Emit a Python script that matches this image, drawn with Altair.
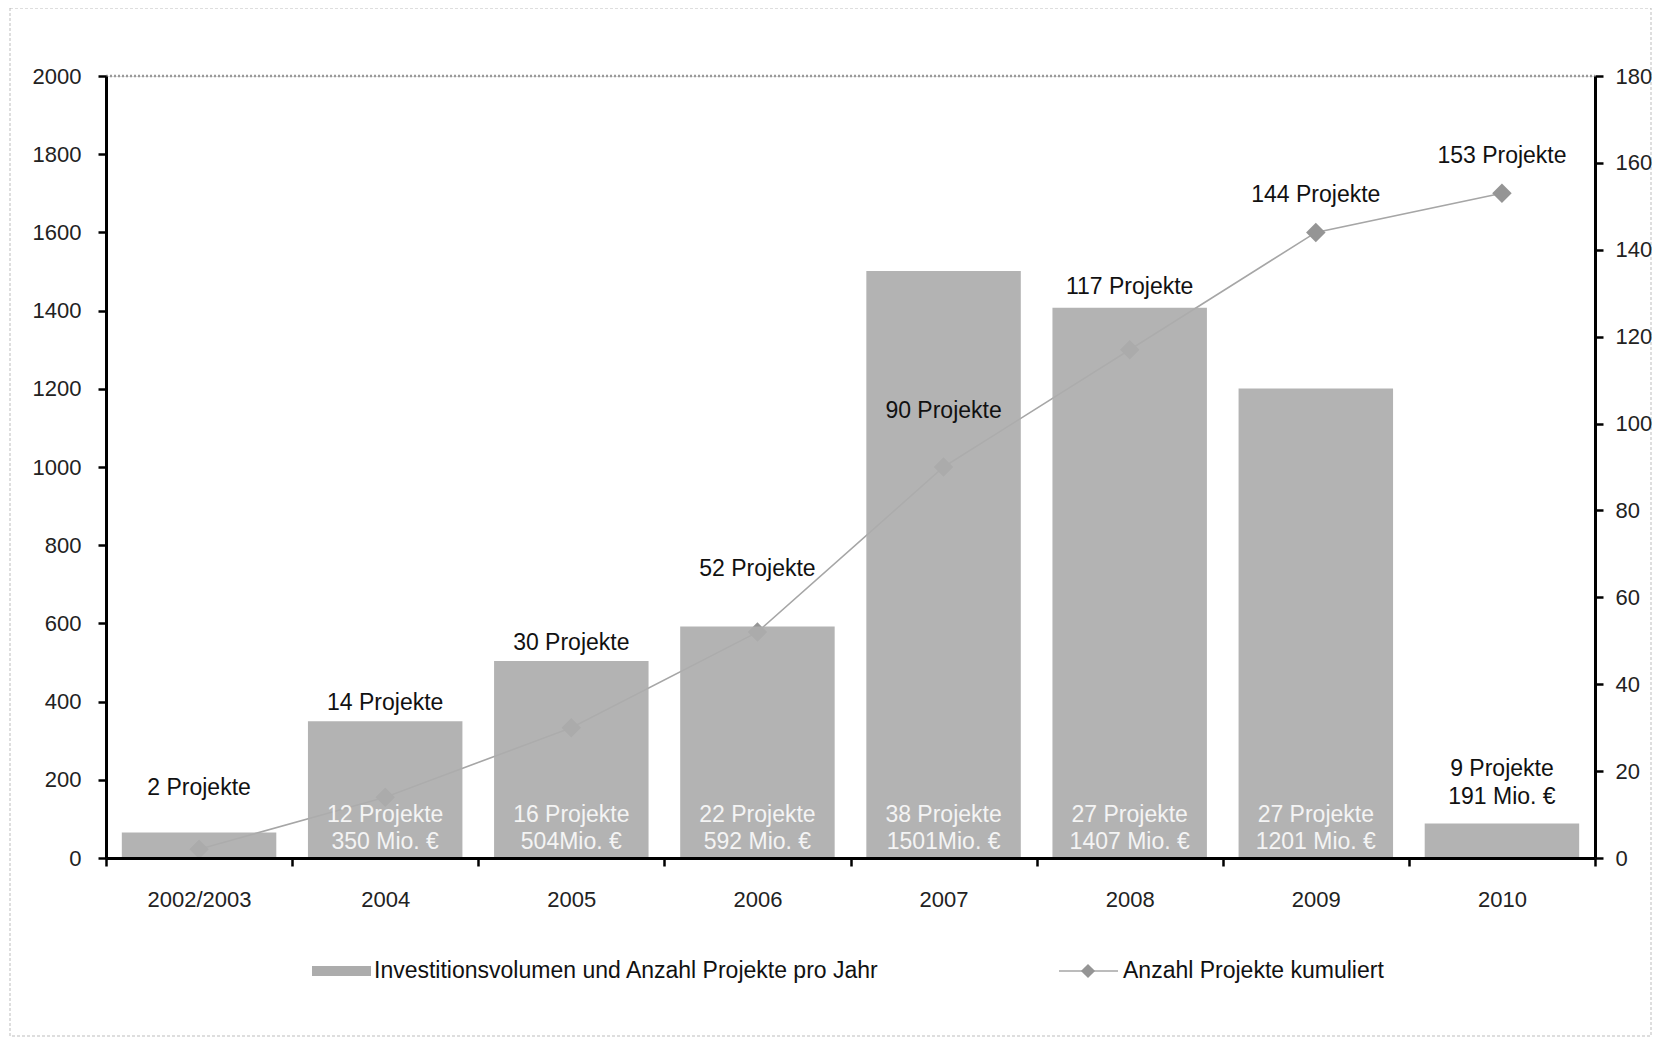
import altair as alt
import pandas as pd

categories = ["2002/2003", "2004", "2005", "2006", "2007", "2008", "2009", "2010"]
invest = [65, 350, 504, 592, 1501, 1407, 1201, 88]
cumulative = [2, 14, 30, 52, 90, 117, 144, 153]
line_labels = ["2 Projekte", "14 Projekte", "30 Projekte", "52 Projekte",
               "90 Projekte", "117 Projekte", "144 Projekte", "153 Projekte"]
line_label_pos = [16.1, 35.6, 49.5, 66.6, 102.9, 131.5, 152.7, 161.7]  # right-axis units
bar_label_1 = ["", "12 Projekte", "16 Projekte", "22 Projekte", "38 Projekte",
               "27 Projekte", "27 Projekte", "9 Projekte"]
bar_label_2 = ["", "350 Mio. €", "504Mio. €", "592 Mio. €", "1501Mio. €",
               "1407 Mio. €", "1201 Mio. €", "191 Mio. €"]
bar_label_pos1 = [0, 110, 110, 110, 110, 110, 110, 228]  # left-axis units
bar_label_pos2 = [0, 41, 41, 41, 41, 41, 41, 157]
bar_label_color = ["#f4f4f4"] * 7 + ["#111111"]

FONT = "Liberation Sans"
FS = 23
AFS = 22
W, H = 1489, 782

df = pd.DataFrame({
    "cat": categories, "invest": invest, "cum": cumulative,
    "ll": line_labels, "llpos": line_label_pos,
    "b1": bar_label_1, "b2": bar_label_2,
    "bp1": bar_label_pos1, "bp2": bar_label_pos2, "bc": bar_label_color,
})

xscale = alt.Scale(paddingInner=0, paddingOuter=0)
xenc = alt.X("cat:N", sort=categories, title=None, scale=xscale,
             axis=alt.Axis(tickBand="extent", domainColor="black", domainWidth=3,
                           tickColor="black", tickWidth=2.5, tickSize=8,
                           labelPadding=23, labelFontSize=AFS, labelFont=FONT,
                           labelColor="#222", labelAngle=0, zindex=2))
xs = alt.X("cat:N", sort=categories, scale=xscale)

left_scale = alt.Scale(domain=[0, 2000], nice=False)
right_scale = alt.Scale(domain=[0, 180], nice=False)

base = alt.Chart(df)

line = base.mark_line(color="#a6a6a6", strokeWidth=1.6).encode(
    x=xenc,
    y=alt.Y("cum:Q", scale=right_scale, title=None,
            axis=alt.Axis(orient="right", values=list(range(0, 181, 20)), grid=False,
                          format="d",
                          domainColor="black", domainWidth=3, tickColor="black",
                          tickWidth=2.5, tickSize=8, labelPadding=12, labelFontSize=AFS,
                          labelFont=FONT, labelColor="#222", zindex=2)),
)
pts = base.mark_point(shape="diamond", size=380, filled=True, color="#959595", opacity=1).encode(
    x=xs,
    y=alt.Y("cum:Q", scale=right_scale, axis=None),
)

bars = base.mark_bar(color="#acacac", opacity=0.92, width=alt.RelativeBandSize(0.83)).encode(
    x=xs,
    y=alt.Y("invest:Q", scale=left_scale, title=None,
            axis=alt.Axis(orient="left", values=list(range(0, 2001, 200)), grid=False,
                          format="d",
                          domainColor="black", domainWidth=3, tickColor="black",
                          tickWidth=2.5, tickSize=8, labelPadding=17, labelFontSize=AFS,
                          labelFont=FONT, labelColor="#222", zindex=2)),
)

line_text = base.mark_text(font=FONT, fontSize=FS, color="#111", baseline="middle").encode(
    x=xs,
    y=alt.Y("llpos:Q", scale=right_scale, axis=None),
    text="ll:N",
)
bt1 = base.mark_text(font=FONT, fontSize=FS, baseline="middle").encode(
    x=xs,
    y=alt.Y("bp1:Q", scale=left_scale, axis=None),
    text="b1:N",
    color=alt.Color("bc:N", scale=None),
)
bt2 = base.mark_text(font=FONT, fontSize=FS, baseline="middle").encode(
    x=xs,
    y=alt.Y("bp2:Q", scale=left_scale, axis=None),
    text="b2:N",
    color=alt.Color("bc:N", scale=None),
)

one = alt.Chart(pd.DataFrame({"k": [0]}))
top_rule = one.mark_rule(color="#9a9a9a", strokeWidth=2.5, strokeDash=[2, 2]).encode(
    x=alt.value(0), x2=alt.value(W), y=alt.value(0))
border = one.mark_rect(fill=None, stroke="#bdbdbd", strokeWidth=1, strokeDash=[3, 2]).encode(
    x=alt.value(-96), x2=alt.value(W + 56), y=alt.value(-68), y2=alt.value(H + 178))

leg_sw = one.mark_rect(color="#acacac").encode(
    x=alt.value(206), x2=alt.value(265), y=alt.value(890), y2=alt.value(900))
leg_t1 = one.mark_text(font=FONT, fontSize=FS, align="left", baseline="middle", color="#111",
                       text="Investitionsvolumen und Anzahl Projekte pro Jahr").encode(
    x=alt.value(268), y=alt.value(895))
leg_line = one.mark_rule(color="#a6a6a6", strokeWidth=1.6).encode(
    x=alt.value(953), x2=alt.value(1012), y=alt.value(895))
leg_pt = one.mark_point(shape="diamond", size=200, filled=True, color="#959595", opacity=1).encode(
    x=alt.value(982), y=alt.value(895))
leg_t2 = one.mark_text(font=FONT, fontSize=FS, align="left", baseline="middle", color="#111",
                       text="Anzahl Projekte kumuliert").encode(
    x=alt.value(1017), y=alt.value(895))

chart = alt.layer(
    line, pts, bars, line_text, bt1, bt2, top_rule, border,
    leg_sw, leg_t1, leg_line, leg_pt, leg_t2,
).resolve_scale(y="independent").properties(
    width=W, height=H,
    autosize=alt.AutoSizeParams(type="none"),
    padding={"left": 98, "top": 68, "right": 58, "bottom": 180},
).configure_view(stroke=None).configure(background="white")

chart.save("out.html", embed_options={"renderer": "svg", "actions": False})
